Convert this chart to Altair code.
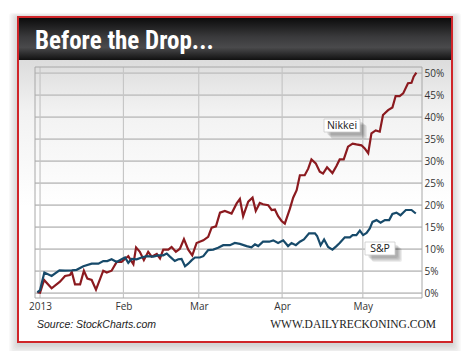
import altair as alt
import pandas as pd

# ---- data (days since 2013-01-01, % change) ----
nikkei_days = [-1, 0, 1.5, 4.3, 7.4, 9.3, 11.1, 11.8, 13, 14.9, 16.3, 17.6, 19.2, 20.8, 23.5, 24.8,
               26.6, 28.5, 30.3, 32.2, 32.8, 34.7, 35.7, 37.1, 38.6, 40.2, 41.5, 43.4, 44.6, 45.8,
               47.7, 48.9, 50.5, 52, 53.5, 55.1, 56.6, 58.2, 60.7, 62.5, 63.8, 65.4, 66.9, 68.7,
               71.2, 73.1, 74.3, 75.5, 77.4, 79, 80.2, 81.7, 82.9, 84.8, 86.1, 87.3, 88.5, 89.8,
               91, 92.9, 94.1, 95.4, 96.6, 98.4, 99.7, 100.9, 102.5, 104, 105.2, 106.7, 108.7,
               110.2, 111.4, 112.9, 114.5, 116.2, 117.6, 119.5, 120.7, 122, 123.2, 124.8, 126.3,
               127.5, 129.4, 131, 132.2, 133.7, 135, 136.8, 138.1, 138.9, 139.9]
nikkei_vals = [0.2, 0.1, 3.0, 1.1, 2.6, 3.9, 4.1, 4.8, 2.0, 2.0, 5.1, 3.3, 3.0, 0.8, 5.1, 4.7,
               5.1, 7.1, 7.1, 8.1, 8.4, 6.6, 10.4, 9.4, 7.5, 9.4, 8.3, 8.9, 7.9, 9.9,
               9.9, 10.5, 9.4, 10.1, 12.3, 9.9, 8.6, 11.4, 12.0, 12.8, 14.9, 15.2, 18.3, 18.7,
               18.1, 20.4, 21.4, 17.5, 20.8, 21.7, 18.7, 20.5, 20.2, 20.0, 18.9, 19.0, 17.5, 16.4,
               15.8, 19.2, 21.7, 23.4, 26.8, 26.8, 28.3, 30.4, 29.5, 27.6, 27.2, 28.6, 27.3,
               28.9, 30.4, 30.4, 33.3, 34.0, 33.8, 33.6, 32.9, 31.8, 36.3, 37.0, 36.7,
               40.5, 41.6, 42.2, 44.8, 44.8, 45.4, 47.7, 47.8, 49.2, 50.1]

sp_days = [-1, 0, 1.6, 4.3, 7.2, 9.3, 11.8, 13.6, 16.1, 19.2, 21.7, 23.5, 25, 26.6, 28.5, 30.3,
           31.6, 32.8, 34.1, 35.9, 37.8, 39.6, 42.1, 43.9, 45.8, 47.1, 48.3, 50.1, 51.4, 52.6,
           53.9, 55.1, 56.4, 57.6, 59.4, 60.7, 62.5, 64.4, 66.2, 68.1, 70.6, 72.4, 74.3, 76.8,
           78.6, 79.9, 81.1, 82.9, 85.2, 86.7, 88.5, 90.4, 92.2, 93.5, 95.1, 96.6, 98.1, 100,
           102.2, 103, 104.3, 105.6, 107.1, 108.7, 110.2, 111.4, 113.3, 115.2, 116.2, 117.6,
           118.9, 120.1, 121.4, 122.6, 123.6, 125.1, 126.6, 128.2, 129.8, 131, 132.5, 134,
           136, 138.1, 139.7]
sp_vals = [0.2, 0.7, 4.7, 3.9, 5.2, 5.1, 5.2, 5.3, 6.1, 6.7, 6.7, 7.3, 7.3, 7.7, 7.1, 7.7,
           8.1, 6.9, 7.8, 7.7, 8.1, 8.4, 8.3, 8.6, 8.6, 9.0, 8.3, 7.3, 7.7, 7.8,
           6.1, 6.7, 7.5, 8.1, 8.1, 8.4, 9.8, 9.9, 10.3, 10.9, 10.9, 11.4, 11.2, 10.7,
           10.4, 11.1, 10.7, 11.7, 11.7, 12.0, 11.4, 12.0, 10.7, 11.4, 10.9, 11.7, 12.2, 13.6,
           13.6, 13.0, 10.9, 12.2, 10.5, 9.9, 10.7, 11.4, 12.7, 12.7, 13.2, 13.2,
           14.2, 13.2, 13.7, 14.7, 16.2, 16.6, 16.0, 16.6, 16.6, 18.0, 18.3, 17.7,
           18.9, 18.9, 18.1]

y_ticks = [0, 5, 10, 15, 20, 25, 30, 35, 40, 45, 50]
month_starts = ["2013-01-01", "2013-02-01", "2013-03-01", "2013-04-01", "2013-05-01"]

base = pd.Timestamp("2013-01-01")
def to_dates(days):
    return [base + pd.Timedelta(days=d) for d in days]

lines_df = pd.concat([
    pd.DataFrame({"date": to_dates(nikkei_days), "value": nikkei_vals, "series": "Nikkei"}),
    pd.DataFrame({"date": to_dates(sp_days), "value": sp_vals, "series": "S&P"}),
])
hgrid = pd.DataFrame({"value": y_ticks})
vgrid = pd.DataFrame({"date": pd.to_datetime(month_starts)})
dummy = pd.DataFrame({"a": [0]})

W, H = 387, 231
xscale = alt.Scale(domain=[alt.DateTime(year=2012, month=12, date=30, hours=3),
                           alt.DateTime(year=2013, month=5, date=23)])
yscale = alt.Scale(domain=[-1.1, 51.4], nice=False, zero=False)

xaxis = alt.Axis(values=[alt.DateTime(year=2013, month=m, date=1) for m in range(1, 6)],
                 labelExpr="month(datum.value) == 0 ? '2013' : timeFormat(datum.value, '%b')",
                 grid=False, ticks=False, domain=False, labelPadding=3, title=None,
                 labelFontSize=10, labelColor="#333333", labelFont="Open Sans", zindex=1)
yaxis = alt.Axis(orient="right", values=y_ticks, labelExpr="datum.value + '%'",
                 grid=False, ticks=False, domain=False, labelPadding=2, title=None,
                 labelFontSize=10, labelColor="#333333", labelFont="Open Sans", zindex=1)

def rect(x1, x2, y1, y2, **kw):
    return alt.Chart(dummy).mark_rect(**kw).encode(
        x=alt.value(x1), x2=alt.value(x2), y=alt.value(y1), y2=alt.value(y2))

def text(x, y, s, **kw):
    return alt.Chart(dummy).mark_text(text=s, **kw).encode(x=alt.value(x), y=alt.value(y))

# drop shadow of the frame
shadow_layers = []
for i in range(1, 8):
    shadow_layers.append(rect(-17 - i * 1.3, 417 + i * 1.3, -50 - i * 0.6, 275 + 2 + i * 1.5,
                              fill="#000000", opacity=0.025, cornerRadius=3))

frame = rect(-17, 417, -50, 275, fill="white", stroke="#d0262a", strokeWidth=2)

header = rect(-16, 416, -49, -7, fill=alt.LinearGradient(
    gradient="linear", x1=0, x2=0, y1=0, y2=1,
    stops=[alt.GradientStop(color="#0c0c0c", offset=0),
           alt.GradientStop(color="#3a3a3c", offset=0.45),
           alt.GradientStop(color="#4a4a4c", offset=0.7),
           alt.GradientStop(color="#111111", offset=1)]))

soft = rect(-16, 416, -7, 140, fill=alt.LinearGradient(
    gradient="linear", x1=0, x2=0, y1=0, y2=1,
    stops=[alt.GradientStop(color="#dcdcdc", offset=0),
           alt.GradientStop(color="#f2f2f2", offset=0.35),
           alt.GradientStop(color="#ffffff", offset=1)]))

title = text(0, -18, "Before the Drop...", align="left", baseline="alphabetic",
             font="Liberation Sans Narrow, Roboto Condensed, Roboto", fontSize=25,
             fontWeight="bold", color="white")

hrules = alt.Chart(hgrid).mark_rule(color="#c6c6c6", strokeWidth=1.6).encode(
    y=alt.Y("value:Q", scale=yscale, axis=yaxis))
vrules = alt.Chart(vgrid).mark_rule(color="#c6c6c6", strokeWidth=1.2).encode(
    x=alt.X("date:T", scale=xscale, axis=xaxis))

border = rect(0, W, 0, H, fill=None, stroke="#a8a8a8", strokeWidth=1)

lines = alt.Chart(lines_df).mark_line(strokeWidth=2.2, interpolate="linear").encode(
    x=alt.X("date:T", scale=xscale, axis=xaxis),
    y=alt.Y("value:Q", scale=yscale, axis=yaxis),
    color=alt.Color("series:N", scale=alt.Scale(domain=["Nikkei", "S&P"],
                                                range=["#8b1a1f", "#174a6a"]), legend=None),
)

def label_box(x1, x2, y1, y2, s):
    parts = []
    for i in range(1, 6):
        parts.append(rect(x1 + 2 + i, x2 + 2 + i, y1 + 2 + i * 0.8, y2 + 2 + i,
                          fill="#000000", opacity=0.07, cornerRadius=2))
    parts.append(rect(x1, x2, y1, y2, fill="white", stroke="#cccccc", strokeWidth=0.8))
    parts.append(text((x1 + x2) / 2, (y1 + y2) / 2 + 0.5, s, align="center", baseline="middle",
                      font="Open Sans", fontSize=10.5, color="#222222"))
    return parts

nik_box = label_box(289, 325, 52, 65, "Nikkei")
sp_box = label_box(330, 360, 175, 188, "S&P")

source = text(2, 261, "Source: StockCharts.com", align="left", baseline="alphabetic",
              font="Liberation Sans", fontStyle="italic", fontSize=10.5, color="#222222")
brand = text(401, 261, "WWW.DAILYRECKONING.COM", align="right", baseline="alphabetic",
             font="Liberation Serif", fontSize=11.5, color="#222222")

chart = alt.layer(
    *shadow_layers, frame, header, soft, title, hrules, vrules, border, lines,
    *nik_box, *sp_box, source, brand
).properties(
    width=W, height=H,
    autosize=alt.AutoSizeParams(type="none"),
    padding={"left": 27, "top": 59, "right": 40, "bottom": 53},
).configure_view(stroke=None)

chart.save("out.html", embed_options={"renderer": "svg", "actions": False})
